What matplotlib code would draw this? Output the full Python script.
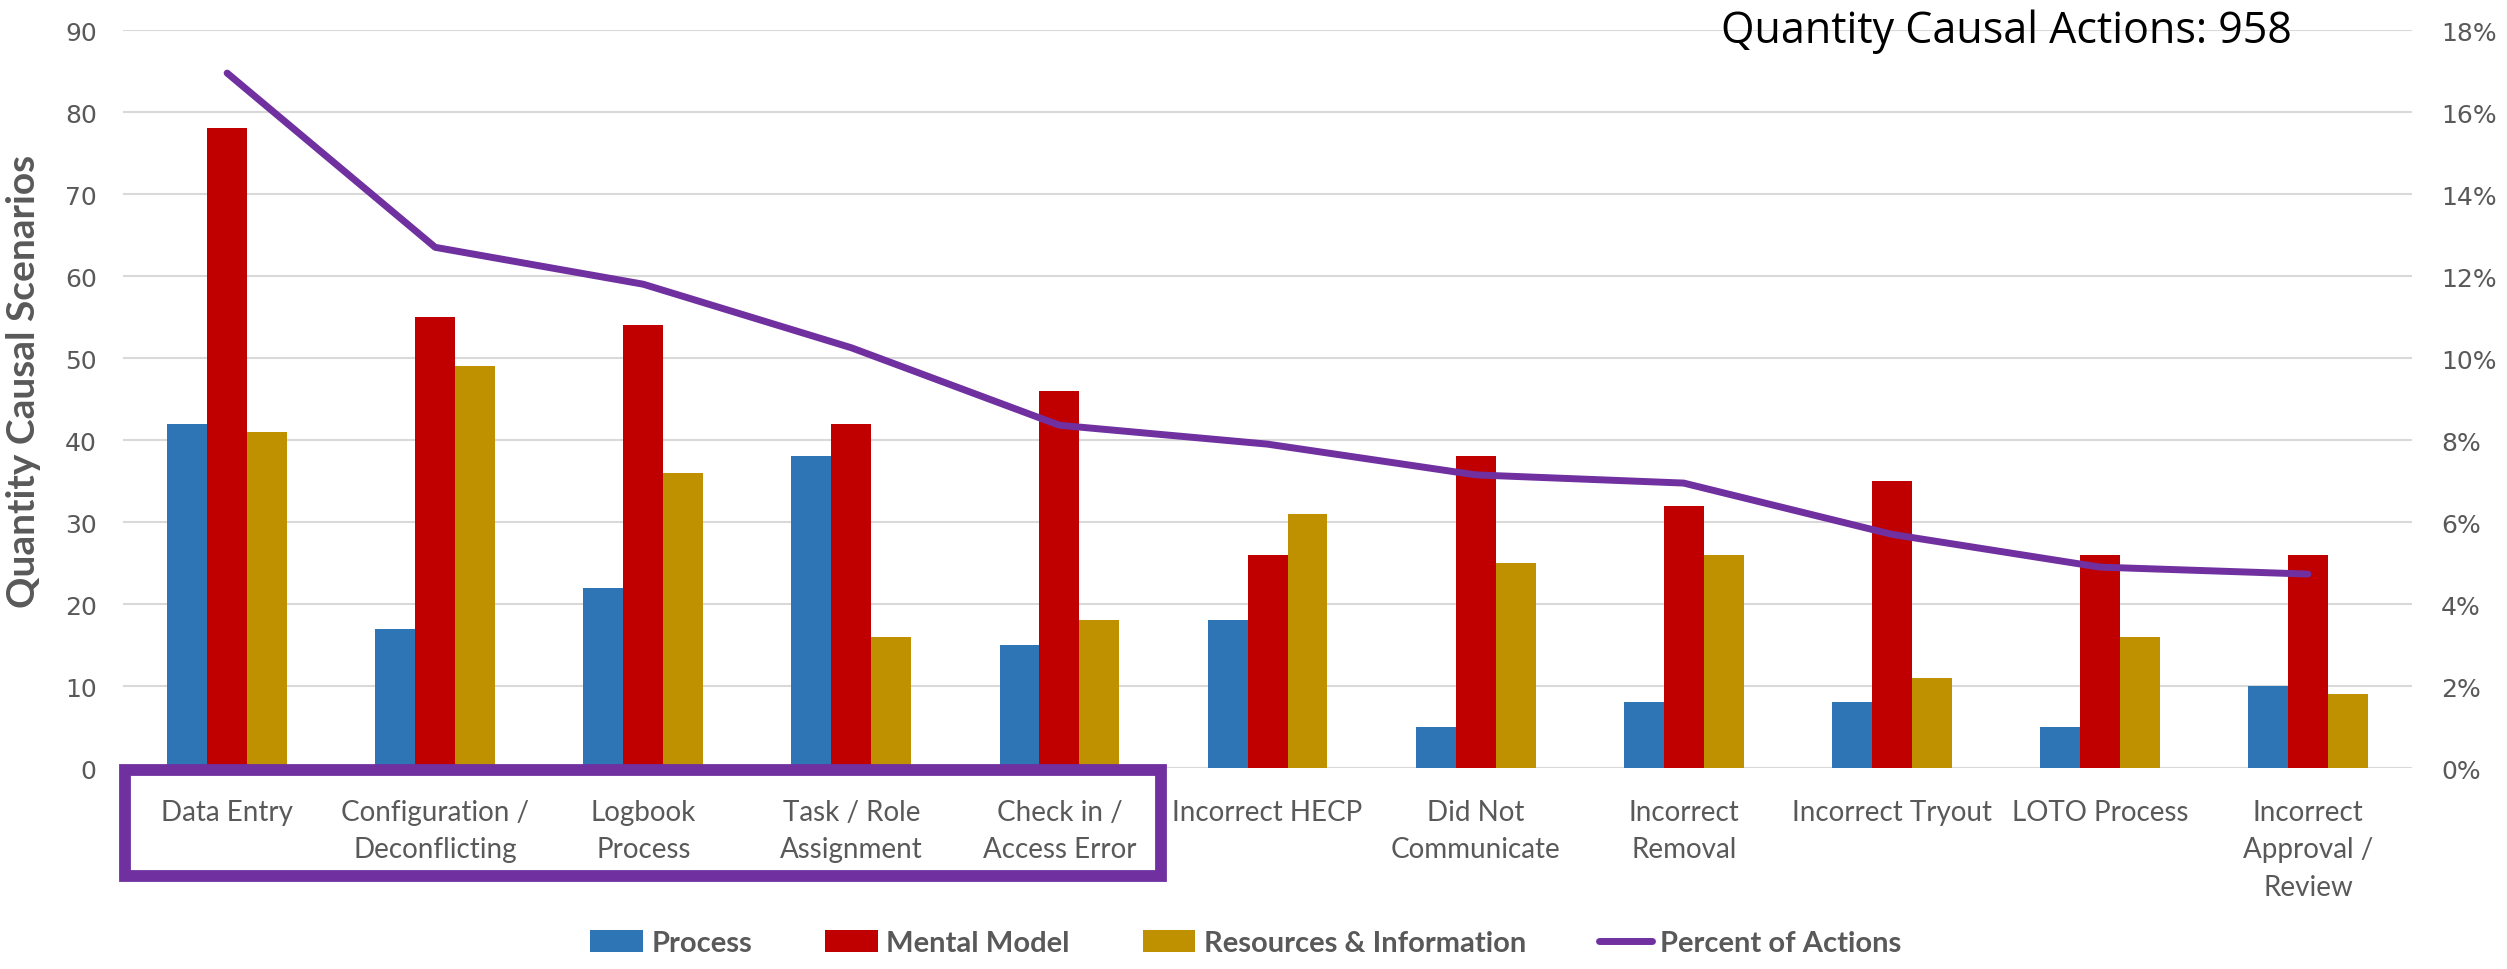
import matplotlib
matplotlib.use("Agg")
import matplotlib.pyplot as plt
import matplotlib.transforms as mtransforms
from matplotlib.patches import Rectangle
from matplotlib.ticker import PercentFormatter
import numpy as np

categories = ["Data Entry", "Configuration /\nDeconflicting", "Logbook\nProcess",
              "Task / Role\nAssignment", "Check in /\nAccess Error", "Incorrect HECP",
              "Did Not\nCommunicate", "Incorrect\nRemoval", "Incorrect Tryout",
              "LOTO Process", "Incorrect\nApproval /\nReview"]
process = [42, 17, 22, 38, 15, 18, 5, 8, 8, 5, 10]
mental_model = [78, 55, 54, 42, 46, 26, 38, 32, 35, 26, 26]
resources = [41, 49, 36, 16, 18, 31, 25, 26, 11, 16, 9]
percent_actions = [0.1695, 0.127, 0.118, 0.1025, 0.0836, 0.079, 0.0715, 0.0695, 0.057, 0.049, 0.0473]
total_actions = 958

lato = ["Lato", "DejaVu Sans"]
gray = "#595959"

fig = plt.figure(figsize=(25.07, 9.70), dpi=100)
ax = fig.add_axes([0.0491, 0.2072, 0.913, 0.7608])
ax2 = ax.twinx()

x = np.arange(len(categories))
w = 0.192
ax.bar(x - w, process, w, color="#2E75B6", label="Process", zorder=2)
ax.bar(x, mental_model, w, color="#C00000", label="Mental Model", zorder=2)
ax.bar(x + w, resources, w, color="#BF9000", label="Resources & Information", zorder=2)
ax2.plot(x, percent_actions, color="#7030A0", lw=5, label="Percent of Actions",
         solid_capstyle="round")

ax.set_xlim(-0.5, len(categories) - 0.5)
ax.set_ylim(0, 90)
ax.set_yticks(range(0, 91, 10))
ax2.set_ylim(0, 0.18)
ax2.set_yticks(np.arange(0, 0.181, 0.02))
ax2.yaxis.set_major_formatter(PercentFormatter(1, decimals=0))

ax.grid(axis="y", color="#D9D9D9", lw=1.5, zorder=0)
ax.set_axisbelow(True)
for a in (ax, ax2):
    for s in a.spines.values():
        s.set_visible(False)
ax.tick_params(axis="y", length=0, pad=19, labelsize=18, labelcolor=gray)
ax2.tick_params(axis="y", length=0, pad=21, labelsize=18, labelcolor=gray)
ax.set_xticks(x)
ax.set_xticklabels(categories, family=lato, fontsize=20, color=gray, linespacing=1.55)
ax.tick_params(axis="x", length=0, pad=22)

ax.set_ylabel("Quantity Causal Scenarios", family=lato, fontsize=28,
              fontweight="bold", color=gray)
ax.yaxis.set_label_coords(-0.036, 0.525)

fig.text(0.914, 0.99, "Quantity Causal Actions: %d" % total_actions,
         family=["Open Sans", "DejaVu Sans"], fontsize=31, color="black",
         ha="right", va="top")

# box around the top five categories
trans = mtransforms.blended_transform_factory(ax.transData, ax.transAxes)
box = Rectangle((-0.49, -0.1466), 4.98, 0.1436, transform=trans, fill=False,
                edgecolor="#7030A0", lw=8.5, clip_on=False, zorder=5)
ax.add_patch(box)

h1, l1 = ax.get_legend_handles_labels()
h2, l2 = ax2.get_legend_handles_labels()
leg = fig.legend(h1 + h2, l1 + l2, loc="lower center", bbox_to_anchor=(0.497, -0.014),
                 ncol=4, frameon=False, handlelength=1.8, handleheight=0.75,
                 columnspacing=2.5, handletextpad=0.3,
                 prop={"family": lato, "size": 21, "weight": "bold"})
for t in leg.get_texts():
    t.set_color(gray)

fig.savefig("out.png", dpi=100)
